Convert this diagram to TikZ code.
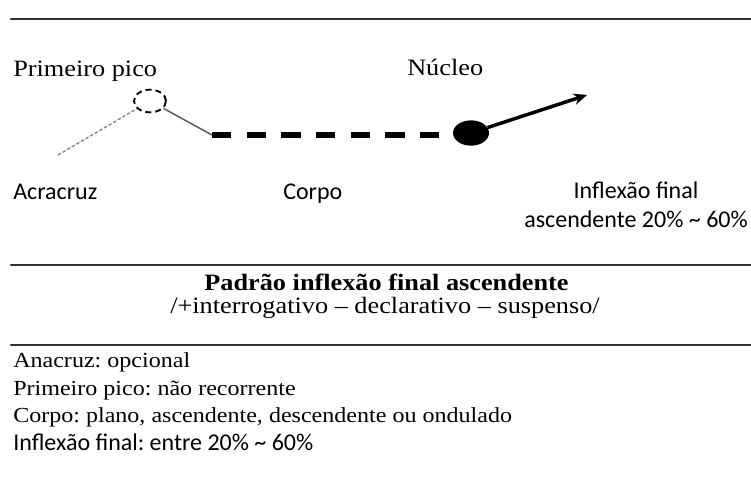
\documentclass[tikz,border=0pt]{standalone}
\usepackage{fontspec}
\setmainfont[FakeStretch=1.12]{Liberation Serif}
\newfontfamily\calibri{Carlito}
\usepackage{tkz-euclide}
\usetikzlibrary{arrows.meta,shapes.geometric}
\frenchspacing

\tikzset{
  regla/.style={line width=1.6pt, draw=black!80},
  romana/.style={font=\fontsize{17.6}{21}\selectfont, inner sep=0pt},
  romanab/.style={font=\fontsize{16.1}{19}\selectfont, inner sep=0pt},
  palo/.style={font=\calibri\fontsize{18}{21.75}\selectfont, inner sep=0pt},
  pico/.style={ellipse, draw, dash pattern=on 4.5pt off 3pt, line width=1.4pt,
    minimum width=24pt, minimum height=17pt, inner sep=0pt},
  nucleo/.style={ellipse, fill=black, minimum width=27pt, minimum height=19pt, inner sep=0pt}
}

\begin{document}
\begin{tikzpicture}[x=0.75pt,y=0.75pt]
        \useasboundingbox (0,0) rectangle (751,494);

        % Paso 1: Define los puntos de las reglas y de la curva
        \tkzDefPoint(11,475){R1} \tkzDefPoint(751,475){S1}
        \tkzDefPoint(11,229){R2} \tkzDefPoint(751,229){S2}
        \tkzDefPoint(11,149){R3} \tkzDefPoint(751,149){S3}
        \tkzDefPoint(58,339){A}
        \tkzDefPoint(212,359){B}
        \tkzDefPoint(587,399){F}

        % Paso 2: Dibuja las reglas horizontales
        \tkzDrawSegment[regla](R1,S1)
        \tkzDrawSegment[regla](R2,S2)
        \tkzDrawSegment[regla](R3,S3)

        % Paso 3: Primer pico y núcleo
        \node[pico] (pico) at (150,393) {};
        \node[nucleo] (nuc) at (471,361) {};

        % Paso 4: Une las partes del contorno
        \draw[line width=1pt, draw=black!50, dash pattern=on 2.5pt off 1.5pt] (A) -- (pico);
        \draw[line width=1.1pt, draw=black!65] (pico) -- (B);
        \draw[line width=3.8pt, dash pattern=on 14.5pt off 11.5pt] (B) -- (B -| nuc.west);
        \draw[line width=2.6pt, -{Stealth[length=10pt,width=8.5pt]}] (nuc) -- (F);

        % Paso 5: Etiquetas del contorno
        \node[romana, anchor=base west] (lpico) at (13,417) {Primeiro pico};
        \node[romana, anchor=base west] (lnuc) at (407,418) {Núcleo};
        \node[palo, anchor=base west] (lana) at (13,295) {Acracruz};
        \node[palo, anchor=base west] (lcorpo) at (283,295) {Corpo};
        \node[palo, anchor=north east, align=center] (linf) at (748,312)
          {Inflexão final\\ascendente 20\% \textasciitilde{} 60\%};

        % Paso 6: Título del padrón
        \node[romana, font=\bfseries\fontsize{17.6}{21}\selectfont, anchor=base] (titulo) at (386.5,204)
          {Padrão inflexão final ascendente};
        \node[romana, anchor=base] (subtitulo) at (385,181)
          {/+interrogativo – declarativo – suspenso/};

        % Paso 7: Leyenda inferior
        \node[romanab, anchor=base west] (l1) at (13,127) {Anacruz: opcional};
        \node[romanab, anchor=base west] (l2) at (13,99) {Primeiro pico: não recorrente};
        \node[romanab, anchor=base west] (l3) at (13,72) {Corpo: plano, ascendente, descendente ou ondulado};
        \node[palo, anchor=base west] (l4) at (13,44) {Inflexão final: entre 20\% \textasciitilde{} 60\%};
    \end{tikzpicture}
\end{document}
